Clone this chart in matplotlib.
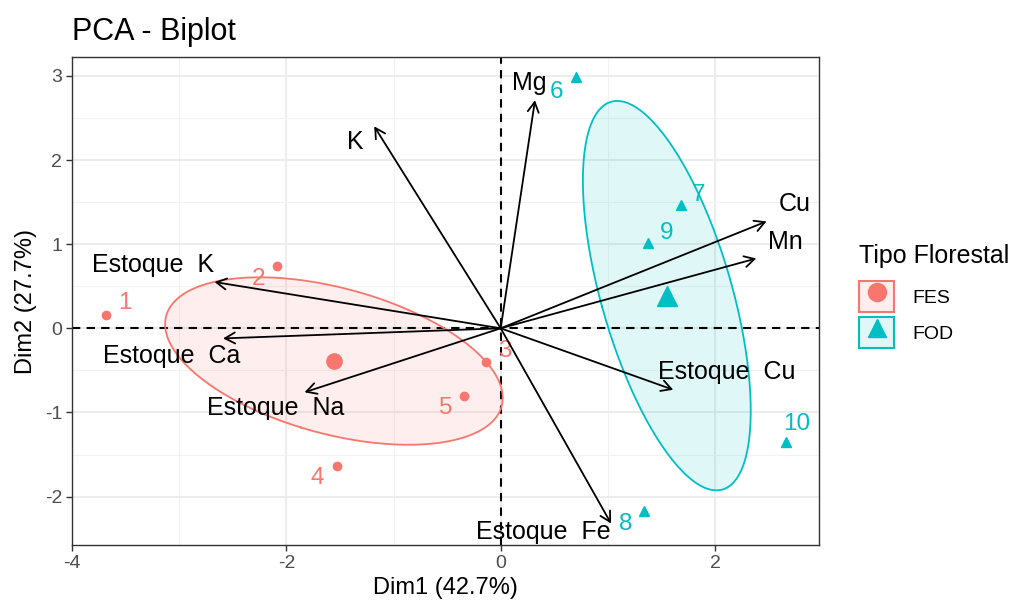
import matplotlib.pyplot as plt
import numpy as np
from matplotlib.patches import Patch
from matplotlib.lines import Line2D

plt.rcParams['font.family'] = ['Liberation Sans', 'DejaVu Sans']
plt.rcParams['axes.unicode_minus'] = False

# individuals (PCA scores)
ind_names = ['1', '2', '3', '4', '5', '6', '7', '8', '9', '10']
ind_group = ['FES', 'FES', 'FES', 'FES', 'FES', 'FOD', 'FOD', 'FOD', 'FOD', 'FOD']
ind_x = [-3.68, -2.09, -0.14, -1.53, -0.34, 0.70, 1.68, 1.34, 1.37, 2.66]
ind_y = [0.155, 0.74, -0.40, -1.64, -0.80, 2.99, 1.46, -2.17, 1.01, -1.35]
ind_lab_x = [-3.51, -2.26, 0.04, -1.71, -0.51, 0.52, 1.85, 1.17, 1.55, 2.76]
ind_lab_y = [0.30, 0.59, -0.27, -1.78, -0.95, 2.81, 1.58, -2.32, 1.13, -1.14]

# variables (loadings arrows)
var_names = ['K', 'Estoque  K', 'Estoque  Ca', 'Estoque  Na', 'Mg', 'Cu', 'Mn',
             'Estoque  Cu', 'Estoque  Fe']
var_x = [-1.18, -2.67, -2.59, -1.83, 0.32, 2.48, 2.385, 1.61, 1.03]
var_y = [2.40, 0.55, -0.12, -0.76, 2.71, 1.27, 0.83, -0.73, -2.32]
var_lab_x = [-1.36, -3.24, -3.07, -2.10, 0.27, 2.74, 2.66, 2.11, 0.40]
var_lab_y = [2.21, 0.75, -0.33, -0.95, 2.91, 1.48, 1.02, -0.52, -2.42]

groups = ['FES', 'FOD']
colors = {'FES': '#F8766D', 'FOD': '#00BFC4'}
markers = {'FES': 'o', 'FOD': '^'}

fig = plt.figure(figsize=(10.13, 6.02), dpi=100)
ax = fig.add_axes([72 / 1013, 1 - 545 / 602, (819 - 72) / 1013, (545 - 57) / 602])

ax.set_xlim(-4.0, 2.97)
ax.set_ylim(-2.575, 3.224)
ax.set_xticks([-4, -2, 0, 2])
ax.set_xticks([-3, -1, 1], minor=True)
ax.set_yticks([-2, -1, 0, 1, 2, 3])
ax.set_yticks([-1.5, -0.5, 0.5, 1.5, 2.5], minor=True)
ax.grid(which='major', color='#EBEBEB', lw=1.3)
ax.grid(which='minor', color='#F2F2F2', lw=0.8)
ax.set_axisbelow(True)
for s in ax.spines.values():
    s.set_color('#333333')
    s.set_linewidth(1.0)
ax.tick_params(which='major', length=4, width=1, color='#333333',
               labelsize=14, labelcolor='#4D4D4D', pad=3)
ax.tick_params(which='minor', length=0)

ax.axhline(0, color='black', lw=1.5, ls=(0, (4, 3)), zorder=2)
ax.axvline(0, color='black', lw=1.5, ls=(0, (4, 3)), zorder=2)

# confidence ellipses around group means
r = np.sqrt(-2 * np.log(1 - 0.95))
t = np.linspace(0, 2 * np.pi, 200)
for g in groups:
    gx = np.array([x for x, k in zip(ind_x, ind_group) if k == g])
    gy = np.array([y for y, k in zip(ind_y, ind_group) if k == g])
    cov = np.cov(gx, gy) / len(gx)
    vals, vecs = np.linalg.eigh(cov)
    pts = vecs @ np.diag(np.sqrt(vals) * r) @ np.vstack([np.cos(t), np.sin(t)])
    ex = gx.mean() + pts[0]
    ey = gy.mean() + pts[1]
    ax.fill(ex, ey, color=colors[g], alpha=0.12, lw=0, zorder=1)
    ax.plot(ex, ey, color=colors[g], lw=1.3, zorder=3)
    ms = 11 if g == 'FES' else 14
    ax.plot(gx.mean(), gy.mean(), marker=markers[g], color=colors[g], ms=ms, ls='none', zorder=4)

# individuals
for name, g, x, y, lx, ly in zip(ind_names, ind_group, ind_x, ind_y, ind_lab_x, ind_lab_y):
    ms = 6 if g == 'FES' else 7
    ax.plot(x, y, marker=markers[g], color=colors[g], ms=ms, ls='none', zorder=4)
    ax.text(lx, ly, name, color=colors[g], fontsize=17.5, ha='center', va='center', zorder=5)

# variable arrows
for name, x, y, lx, ly in zip(var_names, var_x, var_y, var_lab_x, var_lab_y):
    ax.annotate('', xy=(x, y), xytext=(0, 0),
                arrowprops=dict(arrowstyle='->,head_length=0.4,head_width=0.22',
                                mutation_scale=18, color='black', lw=1.3,
                                shrinkA=0, shrinkB=0), zorder=5)
    ax.text(lx, ly, name, color='black', fontsize=18, ha='center', va='center', zorder=6)

ax.set_title('PCA - Biplot', loc='left', fontsize=22, pad=12)
ax.set_xlabel('Dim1 (42.7%)', fontsize=17, labelpad=4)
ax.set_ylabel('Dim2 (27.7%)', fontsize=17, labelpad=6)

# legend
fig.text(859 / 1013, 1 - 256 / 602, 'Tipo Florestal', fontsize=18, ha='left', va='center')
handles = []
for g in groups:
    box = Patch(facecolor=colors[g], alpha=0.12, edgecolor='none')
    edge = Patch(facecolor='none', edgecolor=colors[g], lw=1.5)
    mk = Line2D([], [], marker=markers[g], color=colors[g], ms=13, ls='none')
    handles.append((box, edge, mk))
leg = fig.legend(handles, groups, loc='upper left',
                 bbox_to_anchor=(859 / 1013, 1 - 281 / 602), frameon=False,
                 fontsize=14, handlelength=1.8, handleheight=2.1,
                 handletextpad=0.95, labelspacing=0.25, borderpad=0, borderaxespad=0)

fig.savefig('out.png', dpi=100)
